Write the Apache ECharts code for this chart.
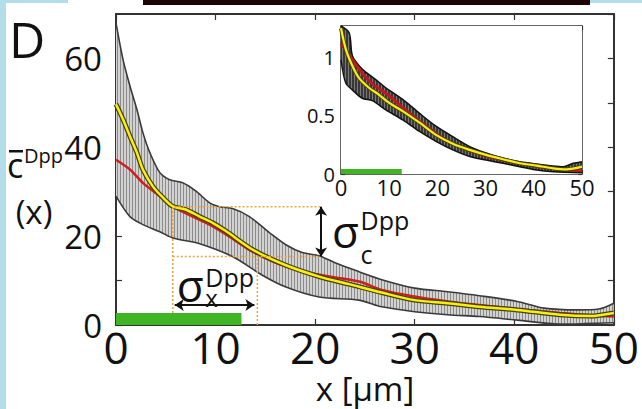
<!DOCTYPE html>
<html>
<head>
<meta charset="utf-8">
<script src="https://cdn.jsdelivr.net/npm/echarts@6/dist/echarts.min.js"></script>
<style>
html, body { margin: 0; padding: 0; background: #fff; }
#chart { width: 642px; height: 409px; }
</style>
</head>
<body>
<div id="chart"></div>
<script>
// main panel: concentration profile vs x [um]
const upperX = [0, 0.7, 1.4, 2.1, 2.7, 3.4, 4.4, 5.4, 6.7, 8.1, 9.4, 10.4, 11.7, 13.4, 15.4, 17.1, 18.7, 20.4, 22, 24.4, 26.7, 30, 33.3, 36.5, 40.3, 43, 46.3, 48.5, 50];
const upperY = [68, 59.8, 53.8, 48.5, 43.3, 38.8, 34.3, 32.7, 32, 30, 27.5, 26.6, 26.2, 24.4, 20.8, 18, 16.3, 15.6, 14, 12, 10.2, 8.3, 7.5, 6.6, 5.3, 3.8, 3.4, 3.6, 4.9];
const lowerX = [0, 1.4, 2.7, 4.4, 5.7, 8.4, 11.7, 14.7, 17, 20.4, 24.4, 26.7, 30, 33.3, 36.5, 40.3, 44.6, 47, 50];
const lowerY = [29, 24.4, 22.6, 21, 19.6, 18.3, 15.4, 11.2, 8.6, 6.3, 5.6, 4.1, 3, 2.3, 1.9, 1.1, 0.2, 0.3, 0.5];
const meanX = [0, 0.7, 1.4, 2.1, 2.7, 3.7, 4.7, 5.7, 7, 8.4, 9.7, 11, 13.7, 17, 20.4, 23.4, 26.7, 30, 33.3, 36.5, 40.3, 44.6, 47.6, 50];
const meanY = [49.7, 46.3, 42.5, 38.8, 35, 31.2, 28.7, 26.7, 26, 24.4, 23, 21.2, 17, 13.5, 10.9, 9.2, 7.3, 5.6, 4.9, 4.1, 3.4, 2.3, 2, 2.7];
const fitX = [0, 1.4, 2.7, 4.4, 5.7, 7.7, 9.4, 11.4, 13.7, 17, 20.4, 24.4, 26.7, 30, 33.3, 36.5, 40.3, 44.6, 47.6, 50];
const fitY = [37.2, 35, 32, 29, 26.7, 24.4, 22.6, 19.9, 16.5, 13.2, 11.3, 9.8, 7.9, 6.4, 5.3, 4.5, 3.6, 2.7, 2.2, 1.9];

// sigma guides (orange) and arrows
const guideX = [5.7, 14.2, 20.6];
const guideY = [26.6, 15.4];
const arrowXrange = [5.9, 13.9];
const arrowXlevel = 4.5;

// inset: normalised profile
const inUpperX = [0, 1.7, 2.4, 4.4, 7.2, 9.3, 12.8, 16.3, 19.7, 23.2, 26.7, 30.1, 33.6, 37.1, 40.6, 44, 46.1, 48.2, 50];
const inUpperY = [1.27, 1.21, 1.01, 0.9, 0.81, 0.74, 0.64, 0.52, 0.41, 0.32, 0.235, 0.18, 0.135, 0.106, 0.086, 0.069, 0.063, 0.092, 0.106];
const inLowerX = [0, 1, 2.4, 4.4, 6.5, 9.3, 12.8, 16.3, 19.7, 23.2, 26.7, 30.1, 33.6, 37.1, 40.6, 44, 50];
const inLowerY = [0.98, 0.78, 0.72, 0.65, 0.63, 0.55, 0.465, 0.365, 0.28, 0.207, 0.15, 0.12, 0.092, 0.063, 0.034, 0.02, 0.01];
const inMeanX = [0, 1, 2.4, 3.8, 5.8, 7.9, 10, 12.8, 16.3, 19.7, 23.2, 26.7, 30.1, 33.6, 37.1, 40.6, 44, 46.8, 50];
const inMeanY = [1.25, 1.07, 0.925, 0.82, 0.74, 0.68, 0.61, 0.54, 0.44, 0.336, 0.26, 0.207, 0.164, 0.127, 0.092, 0.072, 0.049, 0.04, 0.063];
const inFitX = [0, 2.4, 5.8, 10, 12.8, 16.3, 19.7, 23.2, 30.1, 37.1, 44, 50];
const inFitY = [1.12, 0.98, 0.8, 0.67, 0.57, 0.455, 0.35, 0.26, 0.155, 0.092, 0.049, 0.03];

// source region (green bar): x extent, height in each panel
const sourceX = [0, 12.6];
const sourceH = [2.7, 0.043];

const FONT = 'Open Sans';
const zip = (xs, ys) => xs.map((x, i) => [x, ys[i]]);

function stripes(line, base) {
  const c = document.createElement('canvas');
  c.width = 3; c.height = 4;
  const ctx = c.getContext('2d');
  ctx.fillStyle = base; ctx.fillRect(0, 0, 3, 4);
  ctx.fillStyle = line; ctx.fillRect(0, 0, 1, 4);
  return { image: c.toDataURL(), repeat: 'repeat' };
}

function band(xi, up, low, fill, z) {
  return {
    type: 'custom', xAxisIndex: xi, yAxisIndex: xi, z, silent: true,
    data: [[0, 0]],
    renderItem: (params, api) => {
      const pts = up.map(p => api.coord(p)).concat(low.slice().reverse().map(p => api.coord(p)));
      return { type: 'polygon', shape: { points: pts }, style: { fill } };
    }
  };
}

function curve(xi, data, color, width, z) {
  return {
    type: 'line', xAxisIndex: xi, yAxisIndex: xi, data, z, silent: true,
    smooth: 0.3, symbol: 'none',
    lineStyle: { color, width }
  };
}

function rectBar(xi, h, z) {
  return {
    type: 'custom', xAxisIndex: xi, yAxisIndex: xi, z, silent: true,
    data: [[sourceX[0], 0, sourceX[1], h]],
    renderItem: (params, api) => {
      const a = api.coord([api.value(0), api.value(1)]);
      const b = api.coord([api.value(2), api.value(3)]);
      return { type: 'rect', shape: { x: a[0], y: b[1], width: b[0] - a[0], height: a[1] - b[1] }, style: { fill: '#3fb524' } };
    }
  };
}

function guide(data) {
  return {
    type: 'line', xAxisIndex: 0, yAxisIndex: 0, data, z: 6, silent: true, symbol: 'none',
    lineStyle: { color: '#f0a23c', width: 1.5, type: [2, 2] }
  };
}

function xAx(gi, pos, labels, size, margin, lw, lh) {
  return {
    type: 'value', gridIndex: gi, position: pos, min: 0, max: 50, interval: 10,
    axisLine: { show: true, onZero: false, lineStyle: { color: '#333', width: lw } },
    axisTick: { show: true, inside: true, length: gi === 0 ? 6 : 4, lineStyle: { color: '#333', width: 1.2 } },
    axisLabel: { show: labels, fontFamily: FONT, fontSize: size, lineHeight: lh, color: '#111', margin },
    splitLine: { show: false }
  };
}

function yAx(gi, pos, max, interval, fmt, size, margin, lw, lh) {
  return {
    type: 'value', gridIndex: gi, position: pos, min: 0, max, interval,
    axisLine: { show: true, onZero: false, lineStyle: { color: '#333', width: lw } },
    axisTick: { show: true, inside: true, length: gi === 0 ? 6 : 4, lineStyle: { color: '#333', width: 1.2 } },
    axisLabel: { show: !!fmt, fontFamily: FONT, fontSize: size, lineHeight: lh, color: '#111', margin, formatter: fmt, showMaxLabel: false },
    splitLine: { show: false }
  };
}

const chart = echarts.init(document.getElementById('chart'), null, { renderer: 'svg' });

chart.setOption({
  animation: false,
  backgroundColor: '#fff',
  grid: [
    { left: 116, top: 14, width: 501, height: 311 },
    { left: 341, top: 26, width: 241, height: 148, show: true, backgroundColor: '#fff', borderWidth: 0, z: 10 }
  ],
  xAxis: [
    xAx(0, 'bottom', true, 44, 2, 2, 40),
    xAx(1, 'bottom', true, 22, 4, 1.5, 18),
    xAx(0, 'top', false, 0, 0, 2),
    xAx(1, 'top', false, 0, 0, 1.5)
  ],
  yAxis: [
    yAx(0, 'left', 70, 10, v => (v % 20 === 0 ? String(v) : ''), 33, 14, 2, 26),
    yAx(1, 'left', 1.27, 0.25, v => (Math.abs(v * 2 - Math.round(v * 2)) < 1e-6 ? String(v) : ''), 20, 6, 1.5, 16),
    yAx(0, 'right', 70, 10, null, 0, 0, 2),
    yAx(1, 'right', 1.27, 0.25, null, 0, 0, 1.5)
  ],
  series: [
    band(0, zip(upperX, upperY), zip(lowerX, lowerY), stripes('#8c8c8c', '#d2d2d2'), 1),
    curve(0, zip(upperX, upperY), '#3a3a3a', 1.6, 2),
    curve(0, zip(lowerX, lowerY), '#3a3a3a', 1.6, 2),
    curve(0, zip(fitX, fitY), '#cc1f1f', 2.5, 3),
    curve(0, zip(meanX, meanY), '#4a4200', 5, 4),
    curve(0, zip(meanX, meanY), '#f6ef1c', 2.5, 5),
    guide([[guideX[0], 0], [guideX[0], guideY[0]], [guideX[2], guideY[0]]]),
    guide([[guideX[0], guideY[1]], [guideX[2], guideY[1]]]),
    guide([[guideX[1], 0], [guideX[1], guideY[1]]]),
    rectBar(0, sourceH[0], 7),
    {
      type: 'lines', coordinateSystem: 'cartesian2d', xAxisIndex: 0, yAxisIndex: 0, z: 8, silent: true,
      symbol: ['arrow', 'arrow'], symbolSize: 9,
      lineStyle: { color: '#111', width: 2, opacity: 1, curveness: 0 },
      data: [
        { coords: [[arrowXrange[0], arrowXlevel], [arrowXrange[1], arrowXlevel]] },
        { coords: [[guideX[2], guideY[0]], [guideX[2], guideY[1]]] }
      ]
    },
    band(1, zip(inUpperX, inUpperY), zip(inLowerX, inLowerY), stripes('#7a7a7a', '#383838'), 11),
    curve(1, zip(inUpperX, inUpperY), '#111', 1.5, 12),
    curve(1, zip(inLowerX, inLowerY), '#111', 1.5, 12),
    curve(1, zip(inFitX, inFitY), '#c4161c', 3, 13),
    curve(1, zip(inMeanX, inMeanY), '#4a4200', 4, 14),
    curve(1, zip(inMeanX, inMeanY), '#f6ef1c', 2.2, 15),
    rectBar(1, sourceH[1], 16)
  ]
});

// annotations; base = baseline y of the glyphs
const px = p => chart.convertToPixel({ xAxisIndex: 0, yAxisIndex: 0 }, p);
function txt(x, base, s, size, align) {
  return {
    type: 'text', x, y: base - 0.3 * size, z: 50,
    style: { text: s, fontFamily: FONT, fontSize: size, lineHeight: size, fill: '#111', verticalAlign: 'middle', align: align || 'left' }
  };
}

const sc = px([21.7, 21]);
const sx = px([6.1, 8.8]);

chart.setOption({
  graphic: [
    { type: 'rect', shape: { x: 0, y: 0, width: 6, height: 409 }, style: { fill: '#b3dde9' }, z: 60 },
    { type: 'rect', shape: { x: 0, y: 0, width: 68, height: 3 }, style: { fill: '#b3dde9' }, z: 60 },
    { type: 'rect', shape: { x: 584, y: 0, width: 58, height: 3 }, style: { fill: '#b3dde9' }, z: 60 },
    { type: 'rect', shape: { x: 143, y: 0, width: 447, height: 5 }, style: { fill: '#1c0505' }, z: 60 },
    txt(9, 53.5, 'D', 50),
    // y title: c-bar with superscript Dpp, then (x)
    txt(7, 175, 'c', 34),
    { type: 'rect', shape: { x: 9, y: 150, width: 14, height: 2.5 }, style: { fill: '#111' }, z: 50 },
    txt(24, 161, 'Dpp', 20),
    txt(34, 221, '(x)', 33, 'center'),
    txt(365, 398, 'x [\u03bcm]', 33, 'center'),
    txt(sc[0], sc[1] + 12, '\u03c3', 44),
    txt(sc[0] + 28.5, sc[1] - 4, 'Dpp', 25),
    txt(sc[0] + 28.5, sc[1] + 30, 'c', 25),
    txt(sx[0], sx[1] + 12, '\u03c3', 44),
    txt(sx[0] + 28.5, sx[1] - 1, 'Dpp', 25),
    txt(sx[0] + 28.5, sx[1] + 19, 'x', 24)
  ]
});
</script>
</body>
</html>
